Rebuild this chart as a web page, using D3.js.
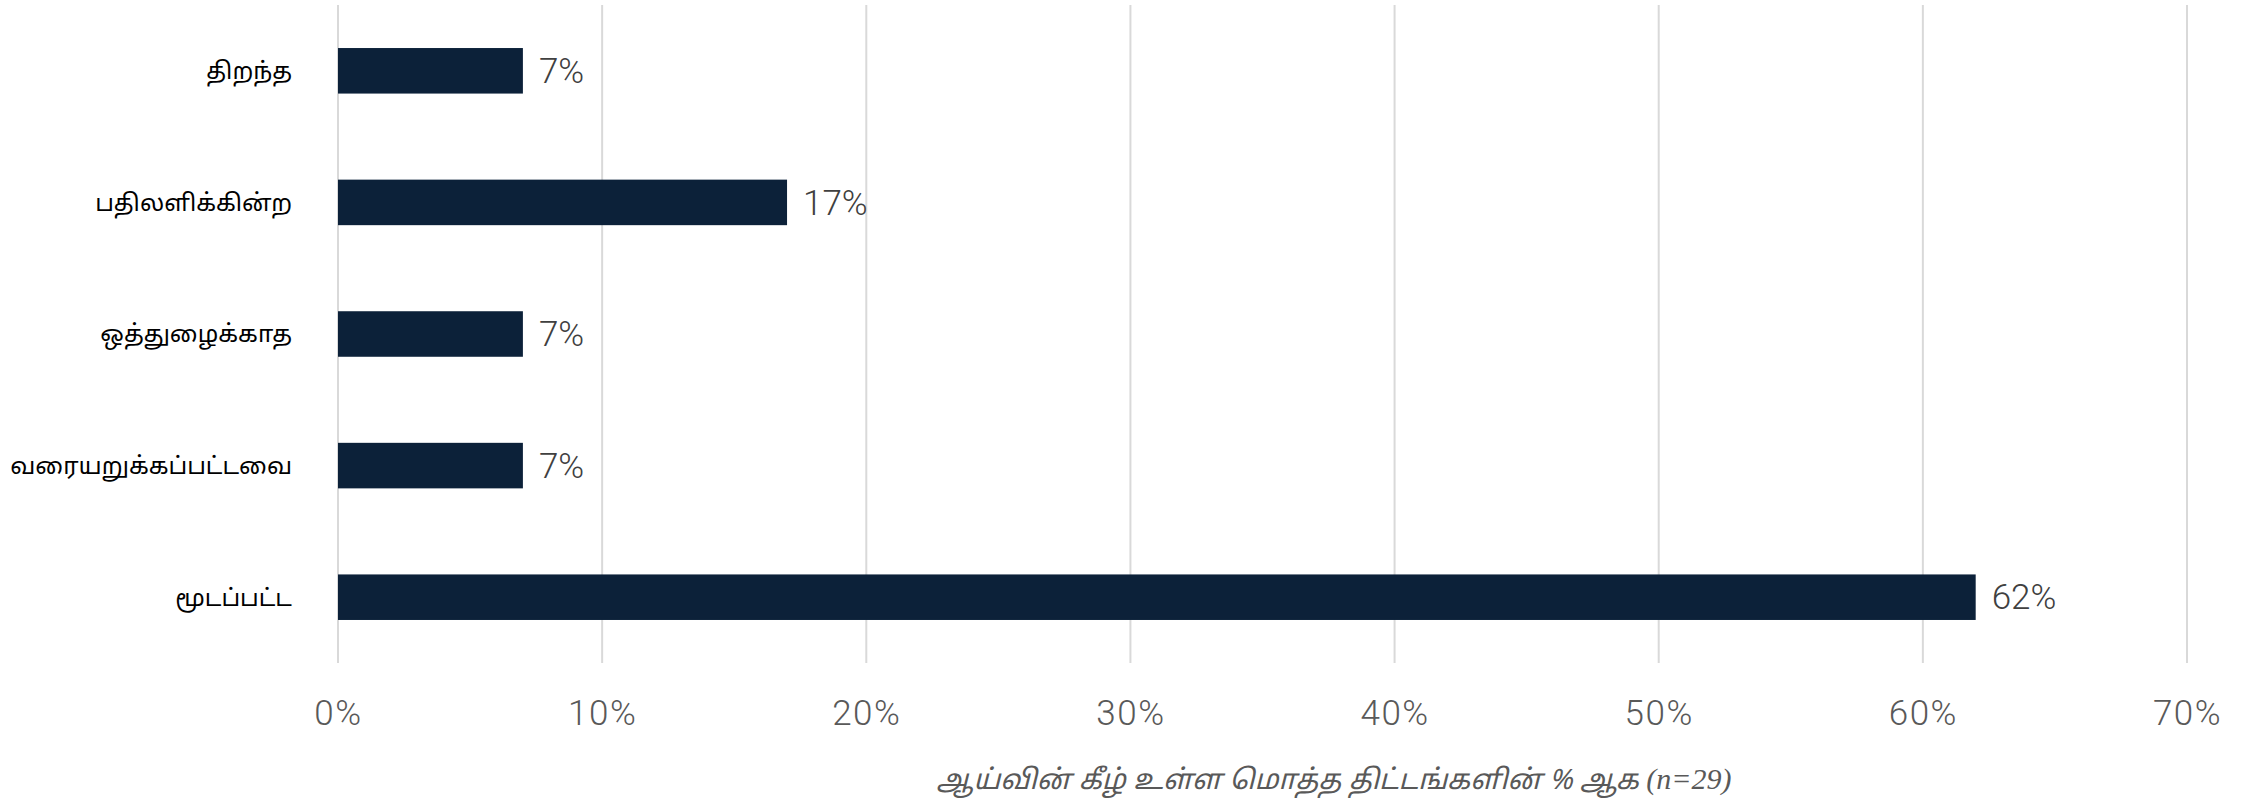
<!DOCTYPE html>
<html>
<head>
<meta charset="utf-8">
<script src="https://cdn.jsdelivr.net/npm/d3@7"></script>
<style>
  body { margin: 0; background: #fff; }
  svg { display: block; }
</style>
</head>
<body>
<svg id="chart" width="2267" height="800"></svg>
<script>
    // chart data, top to bottom
    var categories = ["திறந்த", "பதிலளிக்கின்ற", "ஒத்துழைக்காத", "வரையறுக்கப்பட்டவை", "மூடப்பட்ட"];
    var values = [7, 17, 7, 7, 62];
    var xTicks = [0, 10, 20, 30, 40, 50, 60, 70];
    var axisTitle = "ஆய்வின் கீழ் உள்ள மொத்த திட்டங்களின் % ஆக ";
    var axisTitleN = "(n=29)";

    var tamilFont = "'Noto Sans Tamil', 'Latha', 'Lohit Tamil', 'Noto Serif Tamil', serif";
    var numFont = "Roboto, 'Open Sans', sans-serif";

    var svg = d3.select("#chart"),
        MARGINS = { top: 5, left: 338, right: 80, bottom: 137 },
        WIDTH = 2267,
        HEIGHT = 800;

    var data = categories.map(function(c, i) { return { cat: c, val: values[i] }; });

    var xScale = d3.scaleLinear().domain([0, 70]).range([MARGINS.left, 2187]);
    var yScale = d3.scaleBand()
        .domain(categories)
        .range([MARGINS.top, HEIGHT - MARGINS.bottom])
        .paddingInner(0.654)
        .paddingOuter(0.327);

    // vertical gridlines
    svg.append("g")
        .selectAll("line")
        .data(xTicks)
        .join("line")
        .attr("x1", function(d) { return xScale(d); })
        .attr("x2", function(d) { return xScale(d); })
        .attr("y1", MARGINS.top)
        .attr("y2", HEIGHT - MARGINS.bottom)
        .attr("stroke", "#d9d9d9")
        .attr("stroke-width", 2);

    // x axis labels
    var xAxis = d3.axisBottom(xScale)
        .tickValues(xTicks)
        .tickSize(0)
        .tickPadding(0)
        .tickFormat(function(d) { return d + "%"; });

    var gx = svg.append("g")
        .attr("transform", "translate(0," + (HEIGHT - MARGINS.bottom) + ")")
        .call(xAxis);
    gx.select(".domain").remove();
    gx.selectAll("text")
        .attr("y", 50)
        .attr("dy", "0.35em")
        .attr("fill", "#595959")
        .style("font-family", numFont)
        .style("font-weight", 300)
        .style("font-size", "35px")
        .style("letter-spacing", "1.5px");

    // bars
    svg.append("g")
        .selectAll("rect")
        .data(data)
        .join("rect")
        .attr("x", xScale(0))
        .attr("y", function(d) { return yScale(d.cat); })
        .attr("width", function(d) { return xScale(d.val) - xScale(0); })
        .attr("height", yScale.bandwidth())
        .attr("fill", "#0c2139");

    // value labels
    svg.append("g")
        .selectAll("text")
        .data(data)
        .join("text")
        .attr("x", function(d) { return xScale(d.val) + 16; })
        .attr("y", function(d) { return yScale(d.cat) + yScale.bandwidth() / 2; })
        .attr("dy", "0.35em")
        .attr("fill", "#404040")
        .style("font-family", numFont)
        .style("font-weight", 300)
        .style("font-size", "35px")
        .text(function(d) { return d.val + "%"; });

    // category labels
    svg.append("g")
        .selectAll("text")
        .data(data)
        .join("text")
        .attr("x", 292)
        .attr("y", function(d) { return yScale(d.cat) + yScale.bandwidth() / 2; })
        .attr("dy", "0.35em")
        .attr("text-anchor", "end")
        .attr("fill", "#000")
        .style("font-family", tamilFont)
        .style("font-size", "24px")
        .text(function(d) { return d.cat; });

    // axis title
    var title = svg.append("text")
        .attr("x", 1334)
        .attr("y", 779)
        .attr("dy", "0.35em")
        .attr("text-anchor", "middle")
        .attr("fill", "#595959")
        .style("font-family", tamilFont)
        .style("font-style", "italic")
        .style("font-size", "28px");
    title.append("tspan").text(axisTitle);
    title.append("tspan").style("font-family", "'Liberation Serif', serif").style("font-size", "30px").text(axisTitleN);
</script>
</body>
</html>
